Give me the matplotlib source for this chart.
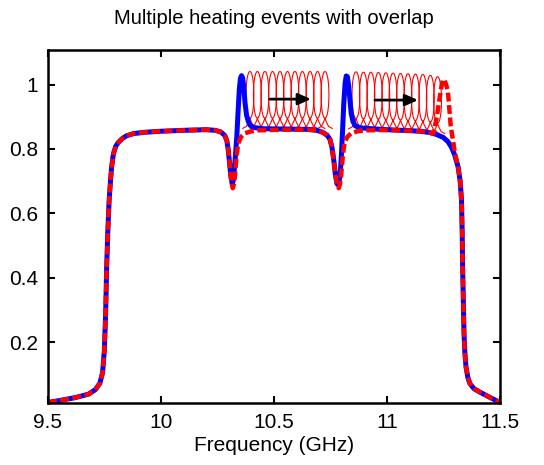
import numpy as np
import matplotlib
matplotlib.use('Agg')
import matplotlib.pyplot as plt

plt.rcParams['font.family'] = ['Liberation Sans', 'DejaVu Sans']

# initial response (blue)
blue_f = [9.500, 9.550, 9.620, 9.680, 9.710, 9.730, 9.742, 9.750, 9.756, 9.760,
          9.765, 9.771, 9.777, 9.782, 9.790, 9.800, 9.811, 9.830, 9.848, 9.880,
          9.930, 9.996, 10.100, 10.200, 10.240, 10.265, 10.283, 10.292, 10.298, 10.304,
          10.310, 10.316, 10.321, 10.326, 10.331, 10.336, 10.341, 10.347, 10.352, 10.357,
          10.362, 10.367, 10.372, 10.379, 10.387, 10.394, 10.410, 10.450, 10.550, 10.650,
          10.690, 10.715, 10.735, 10.748, 10.757, 10.765, 10.772, 10.779, 10.785, 10.790,
          10.795, 10.800, 10.804, 10.809, 10.815, 10.820, 10.825, 10.830, 10.836, 10.842,
          10.850, 10.860, 10.880, 10.950, 11.000, 11.100, 11.150, 11.190, 11.220, 11.249,
          11.270, 11.286, 11.300, 11.315, 11.324, 11.330, 11.333, 11.335, 11.338, 11.341,
          11.345, 11.350, 11.358, 11.367, 11.385, 11.412, 11.450, 11.500]
blue_v = [0.012, 0.018, 0.027, 0.038, 0.052, 0.072, 0.105, 0.175, 0.300, 0.430,
          0.540, 0.640, 0.700, 0.744, 0.785, 0.808, 0.820, 0.833, 0.841, 0.848,
          0.852, 0.855, 0.858, 0.860, 0.858, 0.853, 0.842, 0.825, 0.797, 0.755,
          0.713, 0.690, 0.705, 0.745, 0.790, 0.840, 0.910, 0.985, 1.020, 1.028,
          1.020, 0.990, 0.945, 0.905, 0.885, 0.874, 0.867, 0.863, 0.862, 0.861,
          0.858, 0.852, 0.843, 0.830, 0.805, 0.765, 0.720, 0.692, 0.688, 0.705,
          0.740, 0.800, 0.860, 0.940, 1.005, 1.027, 1.025, 1.000, 0.955, 0.910,
          0.885, 0.872, 0.866, 0.862, 0.860, 0.857, 0.855, 0.851, 0.845, 0.836,
          0.823, 0.805, 0.781, 0.744, 0.700, 0.641, 0.540, 0.433, 0.330, 0.227,
          0.165, 0.122, 0.090, 0.071, 0.055, 0.044, 0.030, 0.012]

# final response after heating (red dashed)
red_f = [9.500, 9.550, 9.620, 9.680, 9.710, 9.730, 9.742, 9.750, 9.756, 9.760,
         9.765, 9.771, 9.777, 9.782, 9.790, 9.800, 9.811, 9.830, 9.848, 9.880,
         9.930, 9.996, 10.100, 10.200, 10.240, 10.265, 10.283, 10.292, 10.298, 10.304,
         10.310, 10.318, 10.323, 10.327, 10.335, 10.342, 10.355, 10.372, 10.400, 10.430,
         10.550, 10.650, 10.690, 10.715, 10.735, 10.748, 10.757, 10.765, 10.772, 10.779,
         10.787, 10.792, 10.797, 10.805, 10.812, 10.825, 10.842, 10.870, 10.900, 11.000,
         11.100, 11.150, 11.190, 11.205, 11.212, 11.222, 11.230, 11.236, 11.242, 11.248,
         11.254, 11.262, 11.268, 11.272, 11.276, 11.282, 11.288, 11.293, 11.300, 11.315,
         11.324, 11.330, 11.333, 11.335, 11.338, 11.341, 11.345, 11.350, 11.358, 11.367,
         11.385, 11.412, 11.450, 11.500]
red_v = [0.012, 0.018, 0.027, 0.038, 0.052, 0.072, 0.105, 0.175, 0.300, 0.430,
         0.540, 0.640, 0.700, 0.744, 0.785, 0.808, 0.820, 0.833, 0.841, 0.848,
         0.852, 0.855, 0.858, 0.860, 0.858, 0.853, 0.842, 0.825, 0.797, 0.755,
         0.710, 0.678, 0.690, 0.713, 0.780, 0.817, 0.838, 0.849, 0.855, 0.858,
         0.860, 0.860, 0.858, 0.852, 0.843, 0.830, 0.805, 0.765, 0.720, 0.692,
         0.678, 0.690, 0.713, 0.780, 0.817, 0.838, 0.849, 0.855, 0.858, 0.859,
         0.857, 0.855, 0.851, 0.848, 0.869, 0.905, 0.945, 0.970, 0.998, 1.016,
         1.015, 1.000, 0.985, 0.960, 0.926, 0.874, 0.845, 0.825, 0.790, 0.744,
         0.700, 0.641, 0.540, 0.433, 0.330, 0.227, 0.165, 0.122, 0.090, 0.071,
         0.055, 0.044, 0.030, 0.012]

# intermediate heating events: centres of the shifted resonance loop
peaks_1 = [10.394, 10.427, 10.460, 10.494, 10.527, 10.560, 10.593, 10.626, 10.660, 10.693, 10.726]
peaks_2 = [10.863, 10.896, 10.929, 10.962, 10.995, 11.027, 11.060, 11.093, 11.126, 11.159, 11.192, 11.224]
base_1 = [0.864] * len(peaks_1)
base_2 = [0.863, 0.862, 0.862, 0.861, 0.860, 0.859, 0.858, 0.857, 0.856, 0.855, 0.852, 0.848]

# loop profile traced once around (offset in GHz, rise above the pass-band level)
loop_df = [-0.032, -0.016, -0.006, 0.0, -0.0045, -0.0088, -0.0124, -0.0152, -0.0169, -0.0175,
           -0.0169, -0.0152, -0.0124, -0.0088, -0.0045, 0.0, 0.0045, 0.0088, 0.0124, 0.0152,
           0.0169, 0.0175, 0.0169, 0.0152, 0.0124, 0.0088, 0.0045, 0.0, 0.006, 0.016, 0.032]
loop_dv = [0.0, 0.006, 0.020, 0.031, 0.034, 0.041, 0.052, 0.068, 0.085, 0.104,
           0.123, 0.141, 0.156, 0.167, 0.175, 0.177, 0.175, 0.167, 0.156, 0.141,
           0.123, 0.104, 0.085, 0.068, 0.052, 0.041, 0.034, 0.031, 0.020, 0.006, 0.0]

xticks = [9.5, 10, 10.5, 11, 11.5]
xticklabels = ['9.5', '10', '10.5', '11', '11.5']
yticks = [0.2, 0.4, 0.6, 0.8, 1.0]
yticklabels = ['0.2', '0.4', '0.6', '0.8', '1']

fig = plt.figure(figsize=(5.44, 4.65), dpi=100)
ax = fig.add_axes([0.088, 0.133, 0.831, 0.759])

# thin red curves, one per heating event
for centres, bases in ((peaks_1, base_1), (peaks_2, base_2)):
    for c, b in zip(centres, bases):
        ax.plot(np.array(loop_df) + c, np.array(loop_dv) + b, color='r', lw=0.8)

ax.plot(blue_f, blue_v, color='b', lw=3.6)
ax.plot(red_f, red_v, color='r', lw=3.2, dashes=(2.0, 0.8))

arrows = [((10.482, 0.955), (10.664, 0.955)), ((10.947, 0.952), (11.138, 0.952))]
for start, end in arrows:
    ax.annotate('', xy=end, xytext=start,
                arrowprops=dict(arrowstyle='-|>,head_length=0.38,head_width=0.17',
                                mutation_scale=20, lw=2.0, color='k',
                                shrinkA=0, shrinkB=0))

ax.set_xlim(9.5, 11.5)
ax.set_ylim(0.01, 1.107)
ax.set_xticks(xticks)
ax.set_xticklabels(xticklabels)
ax.set_yticks(yticks)
ax.set_yticklabels(yticklabels)
ax.tick_params(direction='in', top=True, right=True, length=5, width=1.5,
               labelsize=15, pad=7)
for s in ax.spines.values():
    s.set_linewidth(1.8)

ax.set_xlabel('Frequency (GHz)', fontsize=15, labelpad=3)
ax.set_title('Multiple heating events with overlap', fontsize=14.5, pad=19)

fig.savefig('out.png', dpi=100)
